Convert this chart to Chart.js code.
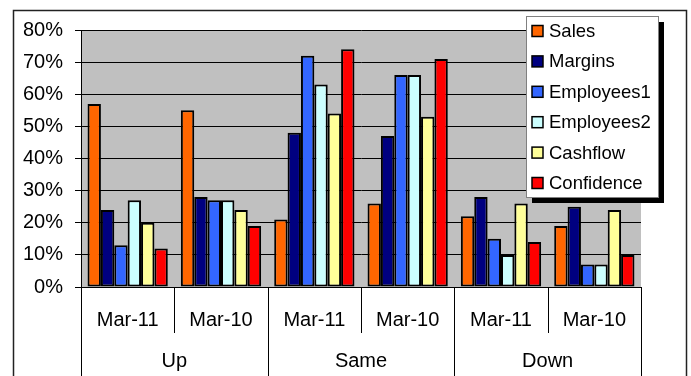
<!DOCTYPE html>
<html>
<head>
<meta charset="utf-8">
<script src="https://cdn.jsdelivr.net/npm/chart.js@4/dist/chart.umd.min.js"></script>
<style>
  html, body { margin: 0; padding: 0; background: #fff; }
  canvas { display: block; }
</style>
</head>
<body>
<canvas id="survey" width="691" height="376"></canvas>
<script>
// period labels under each bar cluster, and the outlook groups they belong to
const periods = ["Mar-11", "Mar-10", "Mar-11", "Mar-10", "Mar-11", "Mar-10"];
const outlooks = ["Up", "Same", "Down"];

// share of answers (%) per period
const sales = [57, 55, 21, 26, 22, 19];
const margins = [24, 28, 48, 47, 28, 25];
const employees1 = [13, 27, 72, 66, 15, 7];
const employees2 = [27, 27, 63, 66, 10, 7];
const cashflow = [20, 24, 54, 53, 26, 24];
const confidence = [12, 19, 74, 71, 14, 10];

const yTicks = [0, 10, 20, 30, 40, 50, 60, 70, 80];

const FONT = "'Liberation Sans', Arial, sans-serif";

function series(label, data, color) {
  return {
    label: label,
    data: data,
    backgroundColor: color,
    borderColor: "#000",
    borderWidth: 2,
    borderSkipped: false,
  };
}

// white page, chart frame and grey plot background
const backdrop = {
  id: "backdrop",
  beforeDraw(chart) {
    const { ctx, chartArea } = chart;
    ctx.save();
    ctx.fillStyle = "#fff";
    ctx.fillRect(0, 0, chart.width, chart.height);
    ctx.strokeStyle = "#222";
    ctx.lineWidth = 1.5;
    ctx.strokeRect(13.5, 10.5, 673, 400);
    ctx.fillStyle = "#c0c0c0";
    ctx.fillRect(chartArea.left, chartArea.top,
      chartArea.right - chartArea.left, chartArea.bottom - chartArea.top);
    ctx.restore();
  },
};

// two-level category axis: separators between periods and outlook groups
const groupAxis = {
  id: "groupAxis",
  afterDraw(chart) {
    const { ctx, chartArea } = chart;
    const xs = chart.scales.x;
    const n = periods.length;
    const step = (xs.right - xs.left) / n;
    ctx.save();
    ctx.strokeStyle = "#000";
    ctx.lineWidth = 1;
    for (let i = 0; i <= n; i++) {
      const x = Math.round(xs.left + i * step) + 0.5;
      const bottom = i % 2 === 0 ? chart.height : chartArea.bottom + 46;
      ctx.beginPath();
      ctx.moveTo(x, chartArea.bottom);
      ctx.lineTo(x, bottom);
      ctx.stroke();
    }
    ctx.fillStyle = "#000";
    ctx.font = "20px " + FONT;
    ctx.textAlign = "center";
    ctx.textBaseline = "middle";
    outlooks.forEach((name, g) => {
      const cx = (xs.getPixelForValue(2 * g) + xs.getPixelForValue(2 * g + 1)) / 2;
      ctx.fillText(name, cx, chartArea.bottom + 74);
    });
    ctx.restore();
  },
};

// legend box with drop shadow, sitting over the top right of the plot
const boxLegend = {
  id: "boxLegend",
  afterDraw(chart) {
    const { ctx } = chart;
    const x = 526, y = 16, w = 132, h = 181;
    ctx.save();
    ctx.fillStyle = "#000";
    ctx.fillRect(x + 6, y + 6, w, h);
    ctx.fillStyle = "#fff";
    ctx.fillRect(x, y, w, h);
    ctx.strokeStyle = "#808080";
    ctx.lineWidth = 1;
    ctx.strokeRect(x + 0.5, y + 0.5, w, h);
    ctx.font = "18.5px " + FONT;
    ctx.textBaseline = "middle";
    ctx.textAlign = "left";
    chart.data.datasets.forEach((ds, i) => {
      const cy = 31 + i * 30.4;
      ctx.fillStyle = ds.backgroundColor;
      ctx.fillRect(532, cy - 5.5, 11, 11);
      ctx.strokeStyle = "#000";
      ctx.lineWidth = 1.5;
      ctx.strokeRect(532, cy - 5.5, 11, 11);
      ctx.fillStyle = "#000";
      ctx.fillText(ds.label, 549, cy + 1);
    });
    ctx.restore();
  },
};

new Chart(document.getElementById("survey").getContext("2d"), {
  type: "bar",
  data: {
    labels: periods,
    datasets: [
      series("Sales", sales, "#ff6600"),
      series("Margins", margins, "#000080"),
      series("Employees1", employees1, "#3366ff"),
      series("Employees2", employees2, "#ccffff"),
      series("Cashflow", cashflow, "#ffff99"),
      series("Confidence", confidence, "#ff0000"),
    ],
  },
  options: {
    responsive: false,
    animation: false,
    devicePixelRatio: 1,
    layout: { padding: { top: 30, right: 50, bottom: 0, left: 0 } },
    datasets: { bar: { categoryPercentage: 0.86, barPercentage: 1 } },
    scales: {
      x: {
        grid: { display: false, drawTicks: false },
        border: { display: true, color: "#000", width: 1 },
        ticks: {
          color: "#000",
          font: { family: FONT, size: 20 },
          padding: 21,
          maxRotation: 0,
          autoSkip: false,
        },
        afterFit(scale) { scale.height = 89; },
      },
      y: {
        min: 0,
        max: 80,
        afterBuildTicks(scale) { scale.ticks = yTicks.map((v) => ({ value: v })); },
        grid: { color: "#000", lineWidth: 1, tickLength: 6 },
        border: { display: true, color: "#000", width: 1 },
        ticks: {
          color: "#000",
          font: { family: FONT, size: 20 },
          padding: 12,
          callback: (v) => v + "%",
        },
        afterFit(scale) { scale.width = 81; },
      },
    },
    plugins: {
      legend: { display: false },
      tooltip: { enabled: false },
    },
  },
  plugins: [backdrop, groupAxis, boxLegend],
});
</script>
</body>
</html>
